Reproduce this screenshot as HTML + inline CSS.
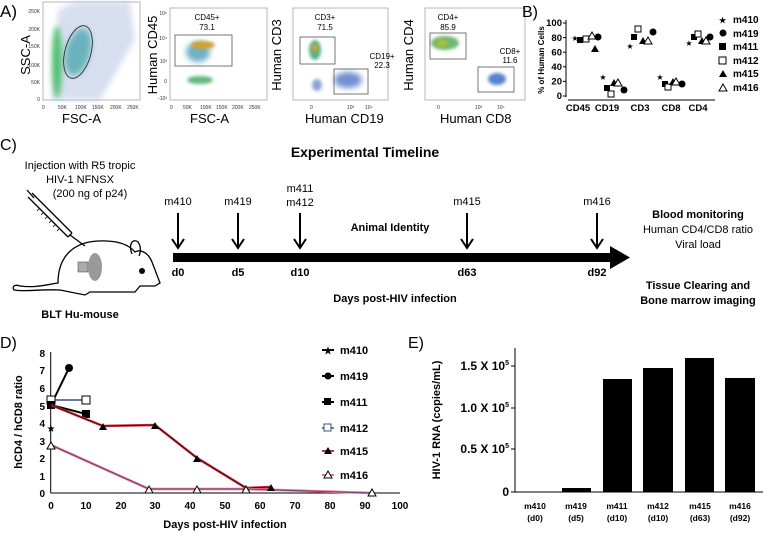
<!DOCTYPE html>
<html><head><meta charset="utf-8"><style>
body{margin:0;background:#fff}
svg{display:block;font-family:"Liberation Sans",Arial,sans-serif}
.b{font-weight:bold}
</style></head><body>
<svg width="771" height="535" viewBox="0 0 771 535" xmlns="http://www.w3.org/2000/svg">
<defs>
<filter id="bl" x="-50%" y="-50%" width="200%" height="200%"><feGaussianBlur stdDeviation="3"/></filter>
<filter id="bl2" x="-50%" y="-50%" width="200%" height="200%"><feGaussianBlur stdDeviation="1.5"/></filter>
</defs>
<text x="0" y="17" font-size="17">A)</text>
<g font-size="5" fill="#333">
<rect x="43" y="2" width="97" height="98" fill="none" stroke="#999" stroke-width="0.7"/>
<polygon points="52,100 58,10 75,2 130,2 135,40 100,100" fill="#a8b8e0" opacity="0.45" filter="url(#bl)"/>
<ellipse cx="57" cy="62" rx="5" ry="36" fill="#4fc070" filter="url(#bl)"/>
<ellipse cx="78" cy="52" rx="12" ry="24" fill="#50a8b0" opacity="0.8" filter="url(#bl)" transform="rotate(15 78 52)"/>
<ellipse cx="78" cy="52" rx="13" ry="27" fill="none" stroke="#222" stroke-width="0.8" transform="rotate(15 78 52)"/>
<text x="40" y="13" text-anchor="end">250K</text><text x="40" y="31" text-anchor="end">200K</text><text x="40" y="48" text-anchor="end">150K</text><text x="40" y="67" text-anchor="end">100K</text><text x="40" y="84" text-anchor="end">50K</text><text x="40" y="101" text-anchor="end">0</text>
<text x="42" y="109">0</text><text x="58" y="109">50K</text><text x="75" y="109">100K</text><text x="92" y="109">150K</text><text x="110" y="109">200K</text><text x="127" y="109">250K</text>
<rect x="170" y="8" width="97" height="92" fill="none" stroke="#999" stroke-width="0.7"/>
<ellipse cx="198" cy="52" rx="12" ry="10" fill="#6fb0c8" filter="url(#bl)"/>
<ellipse cx="203" cy="45" rx="12" ry="4" fill="#d0a030" filter="url(#bl2)"/>
<ellipse cx="200" cy="80" rx="13" ry="4" fill="#60b880" filter="url(#bl2)"/>
<rect x="175" y="35" width="57" height="31" fill="none" stroke="#555" stroke-width="0.8"/>
<text x="167" y="15" text-anchor="end">10⁵</text><text x="167" y="40" text-anchor="end">10⁴</text><text x="167" y="63" text-anchor="end">10³</text><text x="167" y="83" text-anchor="end">0</text><text x="167" y="100" text-anchor="end">-10³</text>
<text x="170" y="109">0</text><text x="183" y="109">50K</text><text x="200" y="109">100K</text><text x="216" y="109">150K</text><text x="232" y="109">200K</text><text x="249" y="109">250K</text>
<rect x="293" y="8" width="95" height="92" fill="none" stroke="#999" stroke-width="0.7"/>
<ellipse cx="315" cy="50" rx="6" ry="10" fill="#58b090" filter="url(#bl2)"/>
<ellipse cx="315" cy="48" rx="3" ry="4" fill="#e0a020" filter="url(#bl2)"/>
<ellipse cx="348" cy="80" rx="14" ry="8" fill="#7090d0" filter="url(#bl)"/>
<ellipse cx="317" cy="85" rx="5" ry="6" fill="#8fa3d8" filter="url(#bl2)"/>
<rect x="300" y="37" width="35" height="27" fill="none" stroke="#555" stroke-width="0.8"/>
<rect x="334" y="69" width="34" height="25" fill="none" stroke="#555" stroke-width="0.8"/>
<text x="310" y="109">0</text><text x="347" y="109">10³</text><text x="365" y="109">10⁴</text>
<rect x="425" y="8" width="100" height="92" fill="none" stroke="#999" stroke-width="0.7"/>
<ellipse cx="445" cy="43" rx="14" ry="7" fill="#70b870" filter="url(#bl2)"/>
<ellipse cx="442" cy="43" rx="5" ry="3" fill="#c0c020" filter="url(#bl2)"/>
<ellipse cx="497" cy="79" rx="9" ry="6" fill="#5a80d0" filter="url(#bl2)"/>
<rect x="430" y="33" width="36" height="26" fill="none" stroke="#555" stroke-width="0.8"/>
<rect x="478" y="67" width="36" height="25" fill="none" stroke="#555" stroke-width="0.8"/>
<text x="437" y="109">0</text><text x="475" y="109">10³</text><text x="497" y="109">10⁴</text>
</g>
<g font-size="13">
<text x="62" y="123">FSC-A</text><text x="190" y="123">FSC-A</text><text x="305" y="123">Human CD19</text><text x="440" y="123">Human CD8</text>
<text transform="translate(30,55) rotate(-90)" text-anchor="middle">SSC-A</text>
<text transform="translate(157,55) rotate(-90)" text-anchor="middle">Human CD45</text>
<text transform="translate(281,55) rotate(-90)" text-anchor="middle">Human CD3</text>
<text transform="translate(413,55) rotate(-90)" text-anchor="middle">Human CD4</text>
</g>
<g font-size="8" text-anchor="middle">
<text x="207" y="20">CD45+</text><text x="207" y="30">73.1</text>
<text x="325" y="20">CD3+</text><text x="325" y="30">71.5</text>
<text x="382" y="59">CD19+</text><text x="382" y="68">22.3</text>
<text x="448" y="20">CD4+</text><text x="448" y="30">85.9</text>
<text x="510" y="54">CD8+</text><text x="510" y="63">11.6</text>
</g>
<text x="522" y="17" font-size="16">B)</text>
<line x1="566" y1="20" x2="566" y2="97" stroke="#000"/>
<line x1="568" y1="100" x2="715" y2="100" stroke="#000"/>
<g stroke="#000"><line x1="563" y1="23" x2="566" y2="23"/><line x1="563" y1="37.6" x2="566" y2="37.6"/><line x1="563" y1="52.2" x2="566" y2="52.2"/><line x1="563" y1="66.8" x2="566" y2="66.8"/><line x1="563" y1="81.4" x2="566" y2="81.4"/><line x1="563" y1="96" x2="566" y2="96"/></g>
<g font-size="9.5" text-anchor="end" class="b">
<text x="562" y="26">100</text><text x="562" y="41">80</text><text x="562" y="55.5">60</text><text x="562" y="70">40</text><text x="562" y="84.5">20</text><text x="562" y="99">0</text>
</g>
<text transform="translate(544,60) rotate(-90)" font-size="8" class="b" text-anchor="middle">% of Human Cells</text>
<g font-size="9.5" class="b" text-anchor="middle">
<text x="578" y="111">CD45</text><text x="607" y="111">CD19</text><text x="640" y="111">CD3</text><text x="671" y="111">CD8</text><text x="698" y="111">CD4</text>
</g>
<g fill="#000">
<text x="575" y="41" font-size="8" text-anchor="middle">★</text><rect x="577" y="37" width="6" height="6"/><rect x="583" y="36" width="6" height="6" fill="#fff" stroke="#000"/><polygon points="591,52 595,45 599,52"/><polygon points="588,39 592,32 596,39" fill="#fff" stroke="#000"/><circle cx="598" cy="37" r="3.5"/>
<text x="603" y="80" font-size="8" text-anchor="middle">★</text><rect x="604" y="85" width="6" height="6"/><rect x="608" y="91" width="6" height="6" fill="#fff" stroke="#000"/><polygon points="610,86 614,79 618,86"/><polygon points="614,86 618,79 622,86" fill="#fff" stroke="#000"/><circle cx="624" cy="90" r="3.5"/>
<text x="630" y="49" font-size="8" text-anchor="middle">★</text><rect x="631" y="34" width="6" height="6"/><rect x="635" y="26" width="6" height="6" fill="#fff" stroke="#000"/><polygon points="639,44 643,37 647,44"/><polygon points="644,44 648,37 652,44" fill="#fff" stroke="#000"/><circle cx="653" cy="32" r="3.5"/>
<text x="660" y="80" font-size="8" text-anchor="middle">★</text><rect x="662" y="81" width="6" height="6"/><rect x="665" y="84" width="6" height="6" fill="#fff" stroke="#000"/><polygon points="669,85 673,78 677,85"/><polygon points="672,85 676,78 680,85" fill="#fff" stroke="#000"/><circle cx="682" cy="84" r="3.5"/>
<text x="689" y="46" font-size="8" text-anchor="middle">★</text><rect x="691" y="34" width="6" height="6"/><rect x="695" y="31" width="6" height="6" fill="#fff" stroke="#000"/><polygon points="698,44 702,37 706,44"/><polygon points="702,44 706,37 710,44" fill="#fff" stroke="#000"/><circle cx="710" cy="37" r="3.5"/>
</g>
<g font-size="10" class="b">
<text x="719" y="23" font-size="8">★</text><text x="733" y="23">m410</text>
<circle cx="723" cy="33" r="3.5"/><text x="733" y="37">m419</text>
<rect x="719" y="43" width="7" height="7"/><text x="733" y="50">m411</text>
<rect x="719" y="57" width="7" height="7" fill="#fff" stroke="#000"/><text x="733" y="64">m412</text>
<polygon points="719,77 723,70 727,77"/><text x="733" y="77">m415</text>
<polygon points="719,91 723,84 727,91" fill="#fff" stroke="#000"/><text x="733" y="91">m416</text>
</g>
<text x="0" y="150" font-size="16">C)</text>
<text x="365" y="157" font-size="14" class="b" text-anchor="middle">Experimental Timeline</text>
<g font-size="11" text-anchor="middle">
<text x="80" y="169">Injection with R5 tropic</text><text x="80" y="183">HIV-1 NFNSX</text><text x="90" y="197">(200 ng of p24)</text>
</g>
<text x="80" y="318" font-size="11" class="b" text-anchor="middle">BLT Hu-mouse</text>
<g fill="none" stroke="#000" stroke-width="1.3">
<path d="M58,283 C58,255 75,242 98,241 C120,240 130,246 135,252 C140,249 148,252 152,262 L160,283 L155,286 L140,286 L135,292 L90,292 L85,295 L60,290 C40,289 25,292 14,290 C12,287 14,284 20,286 C35,288 45,285 58,283 Z"/>
<path d="M132,254 C128,244 133,238 138,242 C141,246 141,252 139,256"/>
<path d="M32,193 L72,233 M28,197 L68,237 M72,233 L68,237 M27,190 L34,198 M70,235 L85,246"/>
</g>
<g stroke="#000" stroke-width="0.8"><path d="M40,208 l-3,3 M44,212 l-3,3 M48,216 l-3,3 M52,220 l-3,3 M56,224 l-3,3 M60,228 l-3,3"/></g>
<circle cx="142" cy="271" r="3" fill="#000"/>
<rect x="78" y="262" width="10" height="10" fill="#aaa" stroke="#555" stroke-width="0.6"/>
<ellipse cx="95" cy="267" rx="7" ry="14" fill="#999"/>
<rect x="173" y="253" width="440" height="9" fill="#000"/>
<polygon points="610,246 630,257.5 610,269" fill="#000"/>
<g stroke="#000" stroke-width="2">
<line x1="178" y1="213" x2="178" y2="246"/><line x1="238" y1="213" x2="238" y2="246"/><line x1="300" y1="213" x2="300" y2="246"/><line x1="467" y1="213" x2="467" y2="246"/><line x1="597" y1="213" x2="597" y2="246"/>
</g>
<g fill="none" stroke="#000" stroke-width="2">
<path d="M172,239 L178,248 L184,239"/><path d="M232,239 L238,248 L244,239"/><path d="M294,239 L300,248 L306,239"/><path d="M461,239 L467,248 L473,239"/><path d="M591,239 L597,248 L603,239"/>
</g>
<g font-size="11" text-anchor="middle">
<text x="178" y="205">m410</text><text x="238" y="205">m419</text><text x="300" y="192">m411</text><text x="300" y="206">m412</text><text x="467" y="205">m415</text><text x="597" y="205">m416</text>
</g>
<g font-size="11" class="b" text-anchor="middle">
<text x="178" y="276">d0</text><text x="238" y="276">d5</text><text x="300" y="276">d10</text><text x="467" y="276">d63</text><text x="597" y="276">d92</text>
<text x="390" y="231">Animal Identity</text>
<text x="395" y="302">Days post-HIV infection</text>
<text x="698" y="218">Blood monitoring</text>
<text x="698" y="289">Tissue Clearing and</text><text x="698" y="304">Bone marrow imaging</text>
</g>
<g font-size="11" text-anchor="middle"><text x="698" y="233">Human CD4/CD8 ratio</text><text x="698" y="248">Viral load</text></g>
<text x="0" y="348" font-size="16">D)</text>
<line x1="50.7" y1="352" x2="50.7" y2="493" stroke="#000"/>
<line x1="50.7" y1="493" x2="400" y2="493" stroke="#000"/>
<g font-size="10" class="b" text-anchor="end">
<text x="45" y="357">8</text><text x="45" y="374">7</text><text x="45" y="392">6</text><text x="45" y="410">5</text><text x="45" y="427">4</text><text x="45" y="445">3</text><text x="45" y="462">2</text><text x="45" y="480">1</text><text x="45" y="497">0</text>
</g>
<g font-size="10" class="b" text-anchor="middle">
<text x="51" y="509">0</text><text x="86" y="509">10</text><text x="121" y="509">20</text><text x="155" y="509">30</text><text x="190" y="509">40</text><text x="225" y="509">50</text><text x="260" y="509">60</text><text x="295" y="509">70</text><text x="330" y="509">80</text><text x="365" y="509">90</text><text x="400" y="509">100</text>
<text x="225" y="528" font-size="11">Days post-HIV infection</text>
</g>
<text transform="translate(22,422) rotate(-90)" font-size="11" class="b" text-anchor="middle">hCD4 / hCD8 ratio</text>
<polyline points="51,405 69,368" fill="none" stroke="#000" stroke-width="2"/>
<circle cx="69" cy="368" r="4"/>
<polyline points="51,405 86,414" fill="none" stroke="#000" stroke-width="2"/>
<rect x="82" y="410" width="8" height="8"/>
<polyline points="51,400 86,400" fill="none" stroke="#3a4f80" stroke-width="1.5"/>
<rect x="47" y="396" width="8" height="8" fill="#fff" stroke="#000"/><rect x="82" y="396" width="8" height="8" fill="#fff" stroke="#000"/>
<rect x="47" y="401" width="8" height="8"/>
<polyline points="51,405 103,426 155,425 197,458 246,488 271,487" fill="none" stroke="#c03040" stroke-width="2.5"/>
<polyline points="51,405 103,426 155,425 197,458 246,488 271,487" fill="none" stroke="#400" stroke-width="0.8"/>
<polyline points="51,445 149,489 197,489 246,489 372,493" fill="none" stroke="#e07090" stroke-width="2.5"/>
<polyline points="51,445 149,489 197,489 246,489 372,493" fill="none" stroke="#5a3a70" stroke-width="0.8"/>
<g fill="#000">
<polygon points="99,430 103,423 107,430"/><polygon points="151,429 155,422 159,429"/><polygon points="193,462 197,455 201,462"/><polygon points="242,492 246,485 250,492"/><polygon points="267,491 271,484 275,491"/>
</g>
<g fill="#fff" stroke="#000">
<polygon points="47,449 51,442 55,449"/><polygon points="145,493 149,486 153,493"/><polygon points="193,493 197,486 201,493"/><polygon points="242,493 246,486 250,493"/><polygon points="368,496 372,489 376,496"/>
</g>
<text x="51" y="432" font-size="10" text-anchor="middle">★</text>
<g font-size="11" class="b">
<line x1="322" y1="350" x2="334" y2="350" stroke="#000" stroke-width="2"/><text x="328" y="354" font-size="10" text-anchor="middle">★</text><text x="340" y="354">m410</text>
<line x1="322" y1="376" x2="334" y2="376" stroke="#000" stroke-width="2"/><circle cx="328" cy="376" r="3.5"/><text x="340" y="380">m419</text>
<line x1="322" y1="402" x2="334" y2="402" stroke="#000" stroke-width="2"/><rect x="324" y="398" width="7" height="7"/><text x="340" y="406">m411</text>
<line x1="322" y1="428" x2="334" y2="428" stroke="#3a4f80" stroke-width="1.5"/><rect x="324" y="424" width="7" height="7" fill="#fff" stroke="#3a4f80"/><text x="340" y="432">m412</text>
<line x1="322" y1="451" x2="334" y2="451" stroke="#c03040" stroke-width="2"/><polygon points="324,454 328,447 332,454"/><text x="340" y="455">m415</text>
<line x1="322" y1="475" x2="334" y2="475" stroke="#e07090" stroke-width="2"/><polygon points="324,478 328,471 332,478" fill="#fff" stroke="#000"/><text x="340" y="479">m416</text>
</g>
<text x="408" y="348" font-size="16">E)</text>
<line x1="515" y1="348" x2="515" y2="492" stroke="#000"/>
<line x1="515" y1="492" x2="763" y2="492" stroke="#000"/>
<g stroke="#000"><line x1="511" y1="366" x2="515" y2="366"/><line x1="511" y1="408" x2="515" y2="408"/><line x1="511" y1="449" x2="515" y2="449"/><line x1="511" y1="492" x2="515" y2="492"/></g>
<g font-size="12" class="b" text-anchor="end">
<text x="509" y="370">1.5 X 10<tspan font-size="7" dy="-5">5</tspan></text>
<text x="509" y="412">1.0 X 10<tspan font-size="7" dy="-5">5</tspan></text>
<text x="509" y="453">0.5 X 10<tspan font-size="7" dy="-5">5</tspan></text>
<text x="509" y="496">0</text>
</g>
<text transform="translate(440,420) rotate(-90)" font-size="11" class="b" text-anchor="middle">HIV-1 RNA (copies/mL)</text>
<g fill="#000">
<rect x="562" y="488" width="29" height="4"/>
<rect x="603" y="379" width="29" height="113"/>
<rect x="643" y="368" width="30" height="124"/>
<rect x="685" y="358" width="29" height="134"/>
<rect x="725" y="378" width="30" height="114"/>
</g>
<g font-size="8.5" class="b" text-anchor="middle">
<text x="535" y="509">m410</text><text x="535" y="521">(d0)</text>
<text x="576" y="509">m419</text><text x="576" y="521">(d5)</text>
<text x="617" y="509">m411</text><text x="617" y="521">(d10)</text>
<text x="658" y="509">m412</text><text x="658" y="521">(d10)</text>
<text x="700" y="509">m415</text><text x="700" y="521">(d63)</text>
<text x="740" y="509">m416</text><text x="740" y="521">(d92)</text>
</g>
</svg>
</body></html>
